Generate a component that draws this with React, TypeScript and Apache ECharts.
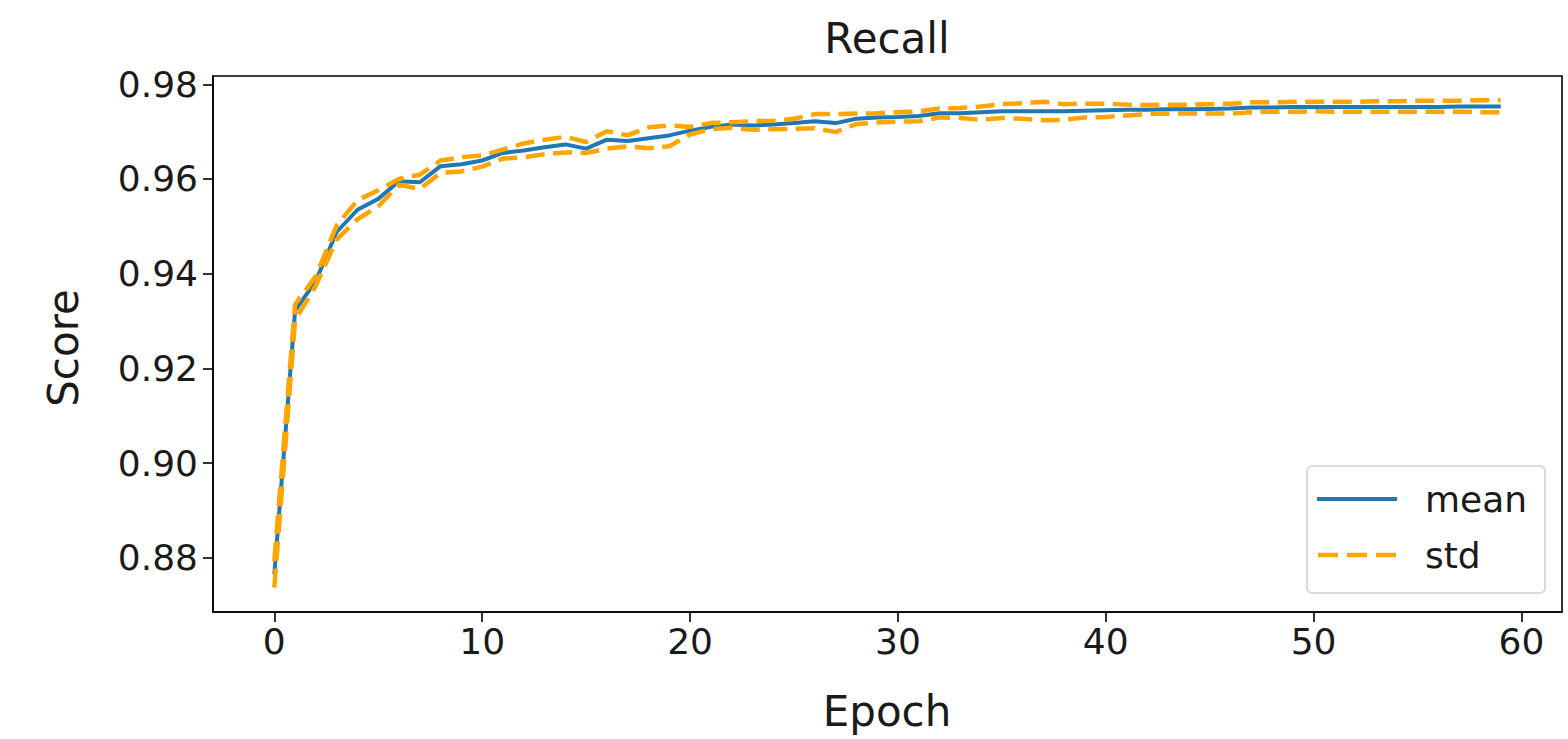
import React, { useEffect, useRef } from "react";
import * as echarts from "echarts";

const epochs: number[] = Array.from({ length: 60 }, (_, i) => i);

const meanValues: number[] = [
  0.8765, 0.9322, 0.9385, 0.9488, 0.9535, 0.9558, 0.9595, 0.9593, 0.9627, 0.9631,
  0.9639, 0.9655, 0.966, 0.9667, 0.9673, 0.9664, 0.9683, 0.968, 0.9686, 0.9692,
  0.9702, 0.971, 0.9715, 0.9713, 0.9715, 0.9718, 0.9722, 0.9718, 0.9727, 0.973,
  0.9731, 0.9733, 0.9739, 0.9739, 0.9741, 0.9743, 0.9743, 0.9743, 0.9743, 0.9744,
  0.9745, 0.9746, 0.9746, 0.9747, 0.9747, 0.9748, 0.9749, 0.9751, 0.9751, 0.9752,
  0.9752, 0.9752, 0.9752, 0.9752, 0.9752, 0.9752, 0.9752, 0.9753, 0.9753, 0.9753,
];

const upperValues: number[] = [
  0.8793, 0.9335, 0.9395, 0.9502, 0.9555, 0.9576, 0.96, 0.9609, 0.9639, 0.9646,
  0.965, 0.9662, 0.9675, 0.9683, 0.9689, 0.9678, 0.9701, 0.9692, 0.9709, 0.9713,
  0.971, 0.9718, 0.972, 0.9722, 0.9723, 0.9727, 0.9737, 0.9737, 0.9738, 0.9739,
  0.9741, 0.9743, 0.9749, 0.975, 0.9753, 0.9758, 0.976, 0.9763, 0.9758, 0.9759,
  0.9759, 0.9757, 0.9756, 0.9757, 0.9757, 0.9758, 0.9759, 0.9762, 0.9762, 0.9763,
  0.9763, 0.9763, 0.9763, 0.9764, 0.9764, 0.9765, 0.9765, 0.9765, 0.9766, 0.9766,
];

const lowerValues: number[] = [
  0.8737, 0.9302, 0.9375, 0.9472, 0.9515, 0.9542, 0.9588, 0.9579, 0.9613, 0.9616,
  0.9626, 0.9643, 0.9646, 0.9652, 0.9656, 0.9655, 0.9664, 0.9669, 0.9665, 0.9669,
  0.9694, 0.9705, 0.9708, 0.9704, 0.9705, 0.9706, 0.9707, 0.9699, 0.9716, 0.9719,
  0.9721, 0.9722, 0.973, 0.9729, 0.9725, 0.9729, 0.9727, 0.9724, 0.9725, 0.973,
  0.9731, 0.9734, 0.9737, 0.9738, 0.9738, 0.9738, 0.9738, 0.9741, 0.9742, 0.9742,
  0.9743, 0.9742, 0.9742, 0.9742, 0.9742, 0.9742, 0.9742, 0.9742, 0.9741, 0.9741,
];

const xTicks: number[] = [0, 10, 20, 30, 40, 50, 60];
const yTicks: number[] = [0.88, 0.9, 0.92, 0.94, 0.96, 0.98];

const FONT = "DejaVu Sans";
const TEXT_COLOR = "#1a1a1a";
const MEAN_COLOR = "#1f77b4";
const STD_COLOR = "#FFA500";
const TICK_FONT = 36;
const LABEL_FONT = 42;

export default function App() {
  const ref = useRef<HTMLDivElement>(null);

  useEffect(() => {
    if (!ref.current) return;
    const chart = echarts.init(ref.current, undefined, { renderer: "svg" });

    const xMinD = Math.min(...epochs);
    const xMaxD = Math.max(...epochs);
    const xPad = (xMaxD - xMinD) * 0.05;
    const yMinD = Math.min(...lowerValues, ...meanValues);
    const yMaxD = Math.max(...upperValues, ...meanValues);
    const yPad = (yMaxD - yMinD) * 0.05;

    const pairs = (vals: number[]) => epochs.map((e, i) => [e, vals[i]]);
    const dash = [19, 8.5];

    const option: any = {
      animation: false,
      backgroundColor: "#fff",
      grid: {
        left: 213,
        top: 76,
        right: 6,
        bottom: 127,
        show: true,
        borderColor: "#000",
        borderWidth: 1.6,
        containLabel: false,
      },
      xAxis: {
        type: "value",
        min: xMinD - xPad,
        max: xMaxD + xPad,
        splitLine: { show: false },
        axisLine: { show: true, onZero: false, lineStyle: { color: "#000", width: 1.6 } },
        axisTick: {
          show: true,
          length: 10,
          lineStyle: { color: "#000", width: 1.6 },
          customValues: xTicks,
        },
        axisLabel: {
          customValues: xTicks,
          color: TEXT_COLOR,
          fontFamily: FONT,
          fontSize: TICK_FONT,
          margin: 11,
          formatter: (v: number) => String(Math.round(v)),
        },
      },
      yAxis: {
        type: "value",
        min: yMinD - yPad,
        max: yMaxD + yPad,
        splitLine: { show: false },
        axisLine: { show: true, onZero: false, lineStyle: { color: "#000", width: 1.6 } },
        axisTick: {
          show: true,
          length: 10,
          lineStyle: { color: "#000", width: 1.6 },
          customValues: yTicks,
        },
        axisLabel: {
          customValues: yTicks,
          color: TEXT_COLOR,
          fontFamily: FONT,
          fontSize: TICK_FONT,
          margin: 15,
          formatter: (v: number) => v.toFixed(2),
        },
      },
      series: [
        {
          name: "mean",
          type: "line",
          data: pairs(meanValues),
          showSymbol: false,
          symbol: "none",
          lineStyle: { color: MEAN_COLOR, width: 4 },
          itemStyle: { color: MEAN_COLOR },
          z: 2,
        },
        {
          name: "std",
          type: "line",
          data: pairs(upperValues),
          showSymbol: false,
          symbol: "none",
          lineStyle: { color: STD_COLOR, width: 4.5, type: dash, cap: "butt" },
          itemStyle: { color: STD_COLOR },
          z: 3,
        },
        {
          name: "std",
          type: "line",
          data: pairs(lowerValues),
          showSymbol: false,
          symbol: "none",
          lineStyle: { color: STD_COLOR, width: 4.5, type: dash, cap: "butt" },
          itemStyle: { color: STD_COLOR },
          z: 3,
        },
      ],
      graphic: [
        {
          type: "text",
          x: 887,
          y: 38,
          style: {
            text: "Recall",
            fontFamily: FONT,
            fontSize: LABEL_FONT,
            fill: TEXT_COLOR,
            align: "center",
            verticalAlign: "middle",
          },
        },
        {
          type: "text",
          x: 887,
          y: 711,
          style: {
            text: "Epoch",
            fontFamily: FONT,
            fontSize: LABEL_FONT,
            fill: TEXT_COLOR,
            align: "center",
            verticalAlign: "middle",
          },
        },
        {
          type: "text",
          x: 63,
          y: 348,
          rotation: Math.PI / 2,
          style: {
            text: "Score",
            fontFamily: FONT,
            fontSize: LABEL_FONT,
            fill: TEXT_COLOR,
            align: "center",
            verticalAlign: "middle",
          },
        },
        {
          type: "rect",
          shape: { x: 1307, y: 466, width: 238, height: 127, r: 5 },
          style: { fill: "rgba(255,255,255,0.8)", stroke: "#d0d0d0", lineWidth: 1.5 },
          z: 10,
        },
        {
          type: "line",
          shape: { x1: 1317, y1: 499, x2: 1397, y2: 499 },
          style: { stroke: MEAN_COLOR, lineWidth: 4 },
          z: 11,
        },
        {
          type: "line",
          shape: { x1: 1318, y1: 555, x2: 1396, y2: 555 },
          style: { stroke: STD_COLOR, lineWidth: 4.5, lineDash: [20, 9] },
          z: 11,
        },
        {
          type: "text",
          x: 1425,
          y: 499,
          style: {
            text: "mean",
            fontFamily: FONT,
            fontSize: TICK_FONT,
            fill: TEXT_COLOR,
            align: "left",
            verticalAlign: "middle",
          },
          z: 11,
        },
        {
          type: "text",
          x: 1425,
          y: 555,
          style: {
            text: "std",
            fontFamily: FONT,
            fontSize: TICK_FONT,
            fill: TEXT_COLOR,
            align: "left",
            verticalAlign: "middle",
          },
          z: 11,
        },
      ],
    };

    chart.setOption(option);
    return () => chart.dispose();
  }, []);

  return (
    <div
      ref={ref}
      style={{ position: "fixed", left: 0, top: 0, width: 1568, height: 739 }}
    />
  );
}
